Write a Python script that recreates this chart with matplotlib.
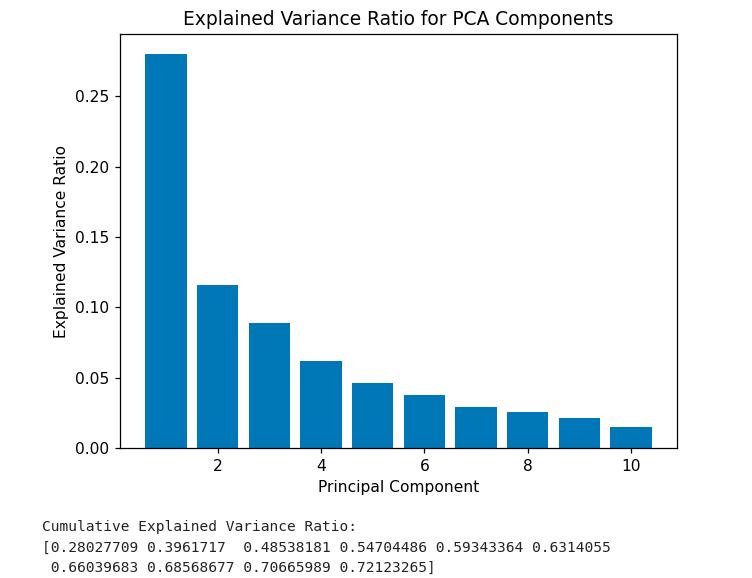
import numpy as np
import matplotlib
matplotlib.use('Agg')
import matplotlib.pyplot as plt

components = [1, 2, 3, 4, 5, 6, 7, 8, 9, 10]
explained_variance = [0.28027709, 0.11589461, 0.08921011, 0.06166305, 0.04638878,
                      0.03797186, 0.02899133, 0.02528994, 0.02097312, 0.01457276]
cumulative_variance = [0.28027709, 0.3961717, 0.48538181, 0.54704486, 0.59343364,
                       0.6314055, 0.66039683, 0.68568677, 0.70665989, 0.72123265]

DPI = 112
fig = plt.figure(figsize=(752 / DPI, 578 / DPI), dpi=DPI)
ax = fig.add_axes([120 / 752, 130 / 578, 557 / 752, 414 / 578])

ax.bar(components, explained_variance, color='#0077b6')
ax.set_xlabel('Principal Component')
ax.set_ylabel('Explained Variance Ratio')
ax.set_title('Explained Variance Ratio for PCA Components')

# printed output below the chart
lines = ['Cumulative Explained Variance Ratio:'] + \
    np.array2string(np.array(cumulative_variance)).split('\n')
for i, line in enumerate(lines):
    fig.text(42 / 752, 1 - (527 + 20.5 * i) / 578, line, family='DejaVu Sans Mono',
             fontsize=9.3, va='center', ha='left', color='#222222')

fig.savefig('out.png', dpi=DPI)
plt.close()
